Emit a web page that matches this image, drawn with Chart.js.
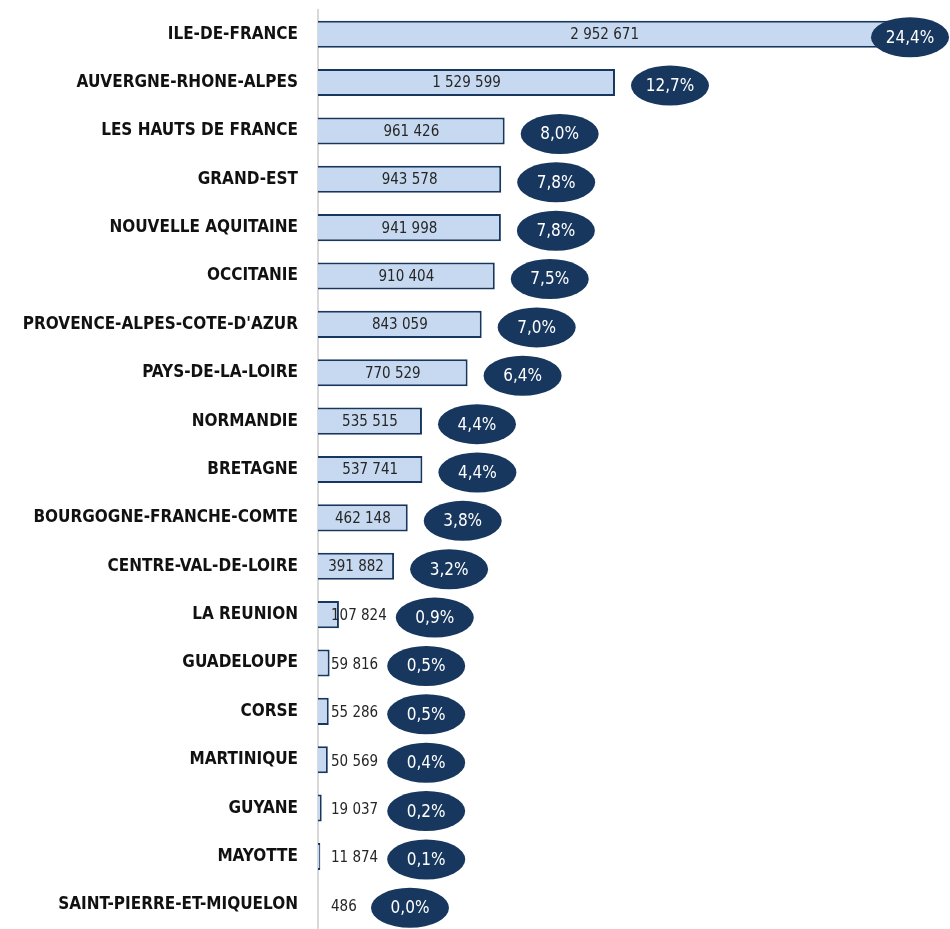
<!DOCTYPE html>
<html>
<head>
<meta charset="utf-8">
<script src="https://cdn.jsdelivr.net/npm/chart.js@4"></script>
<style>
  html, body { margin: 0; padding: 0; background: #fff; overflow: hidden; }
  canvas { display: block; }
</style>
</head>
<body>
<canvas id="regionChart" width="950" height="929"></canvas>
<script>
var regions = ['ILE-DE-FRANCE', 'AUVERGNE-RHONE-ALPES', 'LES HAUTS DE FRANCE', 'GRAND-EST',
  'NOUVELLE AQUITAINE', 'OCCITANIE', "PROVENCE-ALPES-COTE-D'AZUR", 'PAYS-DE-LA-LOIRE',
  'NORMANDIE', 'BRETAGNE', 'BOURGOGNE-FRANCHE-COMTE', 'CENTRE-VAL-DE-LOIRE', 'LA REUNION',
  'GUADELOUPE', 'CORSE', 'MARTINIQUE', 'GUYANE', 'MAYOTTE', 'SAINT-PIERRE-ET-MIQUELON'];
var effectifs = [2952671, 1529599, 961426, 943578, 941998, 910404, 843059, 770529,
  535515, 537741, 462148, 391882, 107824, 59816, 55286, 50569, 19037, 11874, 486];
var parts = [24.4, 12.7, 8.0, 7.8, 7.8, 7.5, 7.0, 6.4, 4.4, 4.4, 3.8, 3.2, 0.9, 0.5, 0.5, 0.4, 0.2, 0.1, 0.0];

var navy = '#17375e';
var narrow = '"Liberation Sans Narrow", "Arial Narrow", "DejaVu Sans Condensed", sans-serif';

function fmtNombre(n) {
  return String(n).replace(/\B(?=(\d{3})+(?!\d))/g, ' ');
}

// valeurs dans les barres + ellipses de pourcentage
var etiquettes = {
  id: 'etiquettes',
  afterDatasetsDraw: function(chart) {
    var ctx = chart.ctx;
    var meta = chart.getDatasetMeta(0);
    var x0 = chart.scales.x.getPixelForValue(0);
    ctx.save();
    meta.data.forEach(function(bar, i) {
      var txt = fmtNombre(effectifs[i]);
      ctx.font = '15px ' + narrow;
      ctx.fillStyle = '#262626';
      ctx.textBaseline = 'middle';
      var w = ctx.measureText(txt).width;
      var fin;
      if (bar.x - x0 > w + 10) {
        ctx.textAlign = 'center';
        ctx.fillText(txt, (x0 + bar.x) / 2, bar.y + 1);
        fin = bar.x;
      } else {
        ctx.textAlign = 'left';
        ctx.fillText(txt, x0 + 13, bar.y + 2);
        fin = x0 + 13 + w;
      }
      var cx = Math.min(Math.max(bar.x + 55, fin + 48, 410), 910);
      var cy = bar.y + 3;
      ctx.beginPath();
      ctx.ellipse(cx, cy, 39, 20, 0, 0, Math.PI * 2);
      ctx.fillStyle = navy;
      ctx.fill();
      ctx.font = '17px ' + narrow;
      ctx.fillStyle = '#fff';
      ctx.textAlign = 'center';
      ctx.fillText(parts[i].toFixed(1).replace('.', ',') + '%', cx, cy + 1);
    });
    ctx.restore();
  }
};

new Chart(document.getElementById('regionChart').getContext('2d'), {
  type: 'bar',
  data: {
    labels: regions,
    datasets: [{
      data: effectifs,
      backgroundColor: '#c6d9f1',
      borderColor: navy,
      borderWidth: 2,
      borderSkipped: 'left',
      categoryPercentage: 1,
      barPercentage: 0.56
    }]
  },
  options: {
    indexAxis: 'y',
    responsive: false,
    animation: false,
    layout: { padding: { top: 10, right: 1, bottom: 0, left: 0 } },
    plugins: {
      legend: { display: false },
      title: { display: false },
      tooltip: { enabled: false }
    },
    scales: {
      x: {
        display: false,
        min: 0,
        max: 3250000
      },
      y: {
        grid: { display: false },
        border: { display: true, color: '#d9d9d9', width: 2 },
        ticks: {
          color: '#111',
          padding: 12,
          font: { family: narrow, size: 17, weight: 'bold' }
        },
        afterFit: function(scale) {
          scale.width = 318;
          scale.paddingTop = 0;
          scale.paddingBottom = 0;
        }
      }
    }
  },
  plugins: [etiquettes]
});
</script>
</body>
</html>
